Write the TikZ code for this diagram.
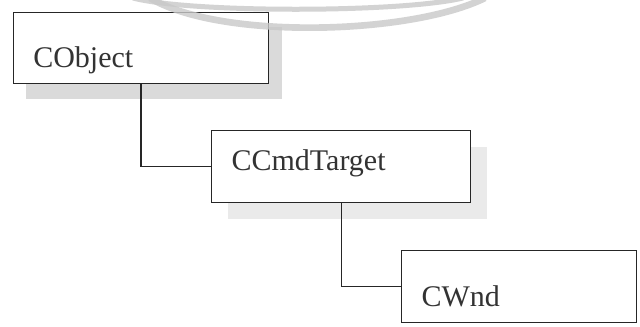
\documentclass[tikz,border=0pt]{standalone}
\usepackage{fontspec}
\setmainfont{Liberation Serif}
\usepackage{tikz}
\usetikzlibrary{shadows}
\definecolor{shadowgray}{RGB}{218,218,218}
\definecolor{lightshadow}{RGB}{234,234,234}
\definecolor{markgray}{RGB}{200,200,200}

\begin{document}
\begin{tikzpicture}[x=0.75pt, y=-0.75pt, font=\fontsize{22.5}{27}\selectfont]
\tikzset{
  cls/.style={draw=black!85, line width=0.9pt, fill=white, anchor=north west,
    align=left, inner ysep=0pt, inner xsep=15pt, text=black!80},
  link/.style={draw=black!85, line width=0.8pt},
  wmark/.style={draw=markgray, opacity=0.8}
}
\useasboundingbox (0,0) rectangle (640,326);

% class boxes
\node[cls, text width=161.5pt, text height=41.5pt, text depth=12pt,
  drop shadow={shadow xshift=9.75pt, shadow yshift=-11.25pt, fill=shadowgray, opacity=1}]
  (cobj) at (12.7,11.7) {CObject};
\node[cls, text width=164.25pt, text height=30pt, text depth=24pt,
  drop shadow={shadow xshift=12pt, shadow yshift=-12pt, fill=lightshadow, opacity=1}]
  (ccmd) at (211,130) {CCmdTarget};
\node[cls, text width=146.25pt, text height=42pt, text depth=12pt]
  (cwnd) at (401,250) {CWnd};

% inheritance links
\draw[link] (cobj.south) |- (ccmd.west);
\draw[link] (ccmd.south) |- (cwnd.west);

% watermark
\draw[wmark, line width=3.75pt] (133,-2) .. controls (190,13) and (400,13) .. (463,-2);
\draw[wmark, line width=5pt] (150,-2) .. controls (220,40) and (410,35) .. (485,-2);
\end{tikzpicture}
\end{document}
